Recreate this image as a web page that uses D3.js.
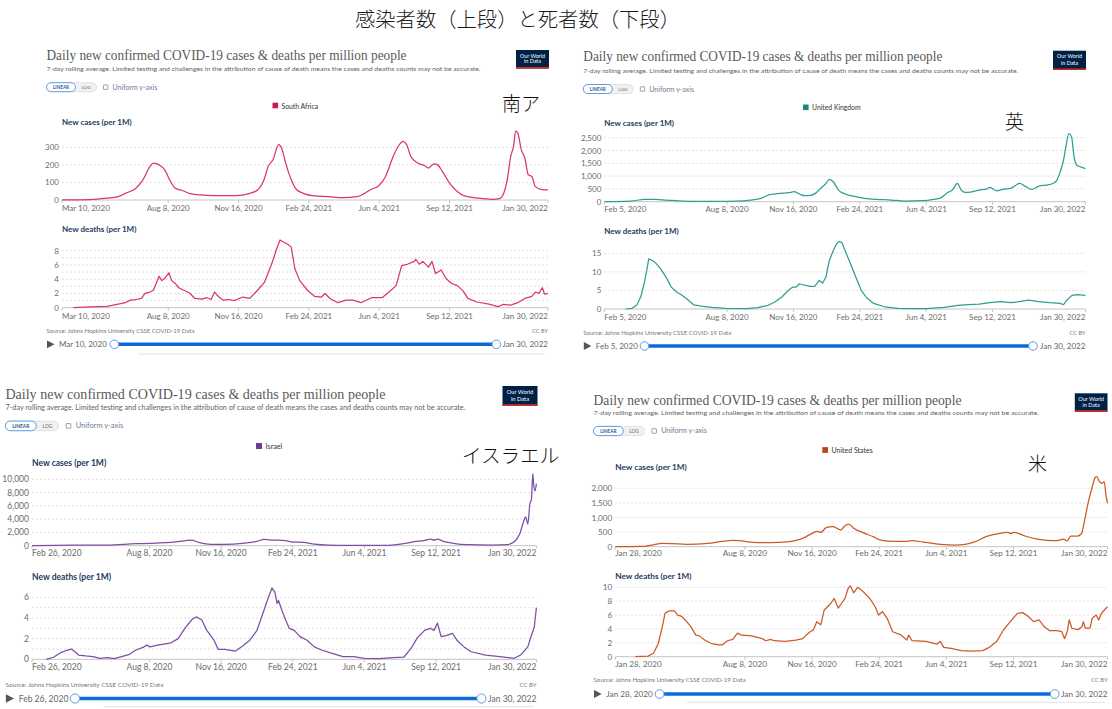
<!DOCTYPE html>
<html>
<head>
<meta charset="utf-8">
<script src="https://cdn.jsdelivr.net/npm/d3@7/dist/d3.min.js"></script>
<style>
  html, body { margin: 0; padding: 0; background: #ffffff; }
  svg { display: block; }
</style>
</head>
<body>
<svg id="chart" width="1112" height="709"></svg>
<script>
// ---------------- DATA ----------------
const mainTitle = "感染者数（上段）と死者数（下段）";
const chartTitle = "Daily new confirmed COVID-19 cases & deaths per million people";
const chartSubtitle = "7-day rolling average. Limited testing and challenges in the attribution of cause of death means the cases and deaths counts may not be accurate.";
const sourceText = "Source: Johns Hopkins University CSSE COVID-19 Data";
const licenseText = "CC BY";
const casesLabel = "New cases (per 1M)";
const deathsLabel = "New deaths (per 1M)";

const countries = ["South Africa", "United Kingdom", "Israel", "United States"];
const countryLabelsJa = ["南ア", "英", "イスラエル", "米"];
const startDates = ["Mar 10, 2020", "Feb 5, 2020", "Feb 26, 2020", "Jan 28, 2020"];
const endDate = "Jan 30, 2022";
const middleTickDates = ["Aug 8, 2020", "Nov 16, 2020", "Feb 24, 2021", "Jun 4, 2021", "Sep 12, 2021"];

const caseTicks = [[0, 100, 200, 300], [0, 500, 1000, 1500, 2000, 2500], [0, 2000, 4000, 6000, 8000, 10000], [0, 500, 1000, 1500, 2000]];
const deathTicks = [[0, 2, 4, 6, 8], [0, 5, 10, 15], [0, 2, 4, 6], [0, 2, 4, 6, 8, 10]];
const deathGridValues = [[1, 2, 3, 4, 5, 6, 7, 8], [5, 10, 15], [1, 2, 3, 4, 5, 6], [2, 4, 6, 8, 10]];

// series points: [days after the panel's first date, value per million]
const saCases = [[0,0],[39,2],[64,10],[80,19],[90,38],[105,67],[115,115],[125,190],[130,210],[138,200],[146,172],[153,115],[161,67],[171,54],[181,38],[196,29],[217,25],[237,25],[247,25],[267,38],[278,57],[288,124],[293,190],[300,229],[308,315],[313,287],[318,210],[326,115],[333,61],[343,38],[359,23],[379,19],[399,13],[420,19],[430,38],[440,61],[450,80],[460,134],[470,239],[478,306],[485,334],[490,315],[496,248],[506,210],[516,195],[521,182],[529,206],[534,200],[541,162],[551,96],[562,48],[572,23],[592,10],[612,4],[622,8],[627,29],[633,115],[638,248],[642,306],[645,392],[648,382],[653,287],[658,239],[663,143],[668,134],[673,76],[681,61],[691,57]];
const saDeaths = [[16,0],[39,0.1],[64,0.2],[80,0.5],[90,0.7],[97,1.06],[105,1.15],[113,1.3],[118,2.0],[125,2.2],[130,2.45],[138,4.4],[142,3.8],[146,4.1],[152,4.9],[156,3.8],[161,3.4],[166,2.8],[173,2.45],[181,2.1],[189,1.3],[199,1.2],[206,1.4],[212,1.15],[217,2.2],[222,1.6],[229,1.06],[237,1.15],[245,1.0],[257,1.5],[267,1.3],[278,2.45],[288,3.6],[298,6.1],[305,8.2],[310,9.5],[316,9.15],[321,8.9],[326,8.5],[331,5.5],[338,3.8],[349,2.45],[359,1.6],[369,1.5],[374,2.0],[381,1.3],[392,0.7],[404,1.06],[414,1.06],[425,0.7],[440,1.4],[455,1.4],[465,2.2],[475,3.1],[483,5.9],[491,6.1],[501,6.5],[503,6.8],[508,6.1],[513,6.5],[521,5.7],[526,6.5],[531,4.8],[539,5.3],[546,4.1],[554,3.4],[562,3.1],[570,2.4],[577,1.3],[590,0.8],[607,0.5],[620,0.15],[627,0.45],[638,0.35],[648,0.7],[658,1.3],[668,1.6],[673,2.2],[678,2.0],[683,2.8],[686,1.9],[691,2.0]];

const ukCases = [[0,0],[40,25],[61,90],[77,90],[93,65],[119,25],[146,13],[172,13],[199,25],[220,65],[236,130],[247,260],[257,300],[265,325],[278,350],[286,390],[294,300],[302,233],[311,246],[318,325],[326,520],[334,712],[339,868],[345,777],[353,453],[363,300],[379,195],[395,117],[411,90],[432,65],[453,26],[480,39],[496,90],[507,150],[517,350],[525,470],[530,673],[532,712],[538,453],[544,363],[554,388],[565,453],[576,492],[581,557],[591,427],[602,492],[612,518],[626,712],[634,609],[644,480],[655,609],[666,648],[676,712],[682,842],[687,1166],[692,1619],[696,2200],[700,2655],[704,2550],[708,1748],[712,1424],[718,1360],[725,1295]];
const ukDeaths = [[32,0],[42,0.2],[49,1.1],[55,3.3],[60,6.8],[64,10.4],[67,13.5],[73,13.0],[78,12.3],[85,10.8],[93,8.6],[101,5.9],[109,4.6],[117,3.7],[125,2.6],[135,1.1],[146,0.8],[162,0.45],[183,0.2],[215,0.1],[231,0.35],[247,1.0],[257,1.9],[268,3.3],[278,5.1],[284,5.9],[289,5.9],[294,6.8],[302,6.4],[310,6.1],[317,6.1],[324,7.7],[329,7.0],[334,8.6],[339,13.0],[345,15.7],[350,17.5],[354,18.2],[358,17.9],[363,15.7],[371,12.2],[379,8.6],[387,5.1],[395,3.1],[406,1.5],[422,0.6],[443,0.2],[464,0.1],[485,0.1],[512,0.45],[533,1.0],[549,1.15],[565,1.3],[581,1.7],[597,2.0],[613,1.7],[623,1.9],[639,2.4],[655,2.0],[671,1.7],[687,1.5],[692,1.15],[697,2.4],[705,3.7],[713,3.9],[725,3.7]];

const ilCases = [[0,0],[55,100],[105,100],[145,300],[165,350],[184,450],[204,600],[214,750],[222,850],[234,450],[249,200],[269,200],[294,350],[314,650],[324,950],[334,850],[344,850],[354,750],[364,550],[379,500],[394,250],[414,100],[444,50],[494,50],[514,250],[534,600],[548,800],[556,1000],[561,850],[566,1000],[573,700],[588,350],[608,150],[643,100],[663,150],[673,600],[681,1850],[686,3600],[689,4350],[692,3250],[695,6350],[697,6950],[699,10850],[700,9350],[702,8250],[704,9350]];
const ilDeaths = [[20,0],[30,0.2],[40,0.64],[47,0.83],[55,0.99],[60,0.73],[65,0.41],[75,0.32],[85,0.26],[95,0.1],[105,0.16],[115,0.06],[125,0.26],[135,0.45],[145,0.9],[155,1.15],[160,1.37],[165,1.2],[175,1.37],[184,1.47],[194,1.6],[204,2.0],[214,3.06],[224,3.9],[230,4.1],[237,3.8],[244,2.8],[254,1.85],[260,0.96],[269,0.96],[284,0.8],[294,1.28],[304,1.85],[314,2.8],[324,4.8],[330,6.0],[335,6.9],[339,6.5],[342,5.4],[344,5.7],[349,4.7],[354,3.8],[359,3.0],[366,2.8],[374,2.2],[384,1.85],[394,1.2],[404,0.9],[419,0.57],[434,0.26],[449,0.26],[464,0.1],[484,0.06],[504,0.16],[519,0.2],[529,1.05],[538,2.1],[548,2.8],[556,3.0],[561,2.8],[566,3.5],[571,2.2],[578,2.3],[587,2.5],[593,1.85],[603,1.2],[613,0.73],[633,0.41],[653,0.26],[673,0.1],[682,0.41],[692,1.2],[697,2.3],[701,3.1],[704,5.0]];

const usCases = [[0,0],[38,10],[54,57],[70,114],[85,103],[106,80],[138,114],[159,183],[175,217],[185,206],[201,160],[222,137],[243,149],[264,194],[279,286],[293,457],[300,526],[306,491],[314,651],[324,686],[332,606],[336,571],[342,720],[348,777],[355,629],[369,480],[384,343],[395,229],[416,183],[432,183],[442,206],[458,160],[473,114],[489,69],[505,57],[521,80],[536,171],[552,343],[568,434],[584,491],[589,457],[594,491],[610,366],[631,251],[652,206],[662,229],[667,263],[673,194],[678,366],[688,366],[694,434],[699,914],[704,1486],[709,1943],[715,2377],[717,2400],[721,2229],[725,2171],[728,2229],[731,1714],[733,1486]];
const usDeaths = [[30,0],[49,0.1],[57,0.5],[64,1.9],[70,4.3],[74,6.25],[80,6.6],[88,6.6],[93,6.0],[99,5.8],[104,5.3],[112,4.4],[120,3.1],[125,3.0],[133,2.4],[143,1.9],[154,1.7],[159,1.7],[167,2.3],[175,2.5],[182,3.4],[188,3.1],[203,3.0],[219,2.6],[224,2.3],[231,2.5],[237,2.3],[253,2.2],[269,2.4],[279,2.6],[290,3.6],[295,3.85],[300,5.05],[306,4.6],[311,6.7],[321,7.7],[326,8.4],[332,7.0],[337,7.7],[342,8.4],[347,9.9],[350,10.2],[355,9.2],[361,10.0],[369,9.4],[379,8.4],[387,7.2],[392,6.0],[398,6.5],[405,5.5],[413,3.6],[426,3.1],[434,2.4],[437,3.1],[442,2.3],[463,2.2],[479,1.8],[484,2.2],[489,1.35],[500,1.2],[515,0.87],[530,0.82],[547,0.87],[557,1.35],[568,2.2],[578,3.85],[586,4.8],[592,5.5],[599,6.25],[607,6.35],[615,5.8],[623,5.05],[631,5.3],[639,4.3],[647,3.75],[657,3.75],[665,3.6],[669,2.6],[673,3.6],[676,5.3],[680,4.1],[689,3.9],[695,4.3],[697,5.05],[700,4.1],[707,4.1],[710,5.5],[716,6.0],[720,5.3],[724,6.25],[729,6.8],[733,7.2]];

const caseSeries = [saCases, ukCases, ilCases, usCases];
const deathSeries = [saDeaths, ukDeaths, ilDeaths, usDeaths];

// ---------------- STYLE / LAYOUT ----------------
const lineColors = ["#dc3373", "#2f9e92", "#7d4ea3", "#cc5a26"];
const legendColors = ["#c8175f", "#168a7d", "#6a3d8f", "#b5461a"];

const layouts = [
  {s:1.0, x:46.5, titleY:55.8, titleW:360, subY:68.5, subW:434, btnY:87.2, logo:[516,50,33,18.5],
   legX:272.5, legY:105.5, jaX:502, jaY:102.5, plotL:62, plotR:548,
   casesLabY:121.7, cY0:200, cYT:147.3, cXLabY:207.5,
   deathsLabY:229.3, dY0:307.7, dYT:250.7, dXLabY:315.5,
   srcW:148, srcY:330.7, slY:344.3, slL:114.3, slR:496.4, tabY:354, tabX0:138.6, tabX1:545},
  {s:1.0, x:583.3, titleY:56.7, titleW:359, subY:70, subW:435, btnY:89, logo:[1053,50.7,33,19.3],
   legX:803, legY:107.3, jaX:1005, jaY:120.5, plotL:604.3, plotR:1085.4,
   casesLabY:123.3, cY0:201.7, cYT:137.7, cXLabY:209.3,
   deathsLabY:231, dY0:309, dYT:253.3, dXLabY:316.7,
   srcW:148, srcY:332.3, slY:346, slL:644.5, slR:1033, tabY:null},
  {s:1.065, x:5.4, titleY:394, titleW:380, subY:406.5, subW:460, btnY:425.9, logo:[502.5,386,35,19.7],
   legX:256, legY:446, jaX:462, jaY:454, plotL:32, plotR:536.4,
   casesLabY:462.7, cY0:545.7, cYT:479.3, cXLabY:553.3,
   deathsLabY:576.7, dY0:659.3, dYT:597.3, dXLabY:666.7,
   srcW:158, srcY:684, slY:698.5, slL:75, slR:481.4, tabY:706.7, tabX0:103.6, tabX1:534},
  {s:1.025, x:593.5, titleY:400, titleW:368, subY:412.7, subW:445.5, btnY:431, logo:[1074.8,393.3,32.7,18.4],
   legX:822.3, legY:450, jaX:1028, jaY:462, plotL:615.3, plotR:1107.5,
   casesLabY:467.3, cY0:546.7, cYT:488.3, cXLabY:553.3,
   deathsLabY:576, dY0:656.7, dYT:587.3, dXLabY:664,
   srcW:152, srcY:679.3, slY:694, slL:659.6, slR:1054.7, tabY:702.3, tabX0:686.8, tabX1:1105}
];

const SANS = "Lato, 'Noto Sans', 'DejaVu Sans', sans-serif";
const SERIF = "'Liberation Serif', 'DejaVu Serif', serif";
const CJK = "'Noto Sans CJK JP', 'Noto Sans CJK SC', sans-serif";
const parseDate = d3.timeParse("%b %d, %Y");
const fmtNum = d3.format(",");

const svg = d3.select("#chart");
svg.append("rect").attr("width", 1112).attr("height", 709).attr("fill", "#ffffff");

svg.append("text")
  .attr("x", 355).attr("y", 18.5)
  .attr("dominant-baseline", "central")
  .attr("font-family", CJK).attr("font-size", 20).attr("font-weight", 300)
  .attr("fill", "#1a1a1a")
  .attr("textLength", 325).attr("lengthAdjust", "spacingAndGlyphs")
  .text(mainTitle);

function txt(g, x, y, str, opts) {
  const t = g.append("text").attr("x", x).attr("y", y)
    .attr("dominant-baseline", "central")
    .attr("font-family", opts.family || SANS)
    .attr("font-size", opts.size)
    .attr("fill", opts.fill || "#666")
    .attr("text-anchor", opts.anchor || "start")
    .text(str);
  if (opts.weight) t.attr("font-weight", opts.weight);
  if (opts.width) t.attr("textLength", opts.width).attr("lengthAdjust", "spacingAndGlyphs");
  return t;
}

function drawChart(g, L, i, series, ticks, gridVals, y0, yT, labY, xLabY, label, curve) {
  const s = L.s;
  const start = parseDate(startDates[i]);
  const end = parseDate(endDate);
  const x = d3.scaleTime().domain([start, end]).range([L.plotL, L.plotR]);
  const maxTick = d3.max(ticks);
  const y = d3.scaleLinear().domain([0, maxTick]).range([y0, yT]);

  txt(g, L.plotL, labY, label, {size: 8 * s, weight: 700, fill: "#243a5e"});

  // grid
  g.selectAll(null).data(gridVals).enter().append("line")
    .attr("x1", L.plotL).attr("x2", L.plotR)
    .attr("y1", d => y(d)).attr("y2", d => y(d))
    .attr("stroke", "#d8d8d8").attr("stroke-width", 0.8)
    .attr("stroke-dasharray", "2,2");

  // y labels
  g.selectAll(null).data(ticks).enter().append("text")
    .attr("x", L.plotL - 3).attr("y", d => y(d))
    .attr("dominant-baseline", "central").attr("text-anchor", "end")
    .attr("font-family", SANS).attr("font-size", 8 * s).attr("fill", "#6d6d6d")
    .text(d => fmtNum(d));

  // x axis
  g.append("line").attr("x1", L.plotL).attr("x2", L.plotR)
    .attr("y1", y0).attr("y2", y0).attr("stroke", "#c4c4c4").attr("stroke-width", 1);
  const tickLabels = [startDates[i]].concat(middleTickDates, [endDate]);
  tickLabels.forEach((lab, k) => {
    const d = parseDate(lab);
    const xp = x(d);
    g.append("line").attr("x1", xp).attr("x2", xp).attr("y1", y0).attr("y2", y0 + 3)
      .attr("stroke", "#c4c4c4").attr("stroke-width", 1);
    const anchor = k === 0 ? "start" : (k === tickLabels.length - 1 ? "end" : "middle");
    txt(g, xp, xLabY, lab, {size: 8 * s, fill: "#6d6d6d", anchor: anchor});
  });

  // series line
  const line = d3.line()
    .curve(curve)
    .x(d => x(d3.timeDay.offset(start, d[0])))
    .y(d => y(d[1]));
  g.append("path").datum(series)
    .attr("d", line)
    .attr("fill", "none")
    .attr("stroke", lineColors[i])
    .attr("stroke-width", 1.25)
    .attr("stroke-linejoin", "round");
}

layouts.forEach((L, i) => {
  const s = L.s;
  const g = svg.append("g");

  // title / subtitle
  txt(g, L.x, L.titleY, chartTitle, {family: SERIF, size: 14 * s, fill: "#5a5a5a", width: L.titleW});
  txt(g, L.x, L.subY, chartSubtitle, {size: 6.3 * s, fill: "#5f5f5f", width: L.subW});

  // logo
  const [lx, ly, lw, lh] = L.logo;
  g.append("rect").attr("x", lx).attr("y", ly).attr("width", lw).attr("height", lh).attr("fill", "#002147");
  g.append("rect").attr("x", lx).attr("y", ly + lh - 1.6).attr("width", lw).attr("height", 1.6).attr("fill", "#ce261e");
  txt(g, lx + lw / 2, ly + lh * 0.3, "Our World", {size: 5.4 * s, fill: "#ffffff", anchor: "middle"});
  txt(g, lx + lw / 2, ly + lh * 0.62, "in Data", {size: 5.4 * s, fill: "#ffffff", anchor: "middle"});

  // buttons
  const bh = 9 * s;
  g.append("rect").attr("x", L.x).attr("y", L.btnY - bh / 2).attr("width", 50 * s).attr("height", bh)
    .attr("rx", bh / 2).attr("fill", "#f1f1f1").attr("stroke", "#dcdcdc").attr("stroke-width", 0.8);
  g.append("rect").attr("x", L.x).attr("y", L.btnY - bh / 2).attr("width", 29 * s).attr("height", bh)
    .attr("rx", bh / 2).attr("fill", "#ffffff").attr("stroke", "#5d9de3").attr("stroke-width", 1);
  txt(g, L.x + 14.5 * s, L.btnY, "LINEAR", {size: 4.6 * s, weight: 700, fill: "#2e5b95", anchor: "middle"});
  txt(g, L.x + 39.5 * s, L.btnY, "LOG", {size: 4.6 * s, fill: "#666", anchor: "middle"});
  g.append("rect").attr("x", L.x + 57 * s).attr("y", L.btnY - 2.2 * s).attr("width", 4.4 * s).attr("height", 4.4 * s)
    .attr("rx", 0.5).attr("fill", "#fff").attr("stroke", "#777").attr("stroke-width", 0.7);
  txt(g, L.x + 66 * s, L.btnY - 0.5, "Uniform y-axis", {size: 7 * s, fill: "#6b7b92"});

  // legend
  g.append("rect").attr("x", L.legX).attr("y", L.legY - 2.8 * s).attr("width", 5.6 * s).attr("height", 5.6 * s)
    .attr("fill", legendColors[i]);
  txt(g, L.legX + 9 * s, L.legY, countries[i], {size: 6.8 * s, fill: "#333"});

  // Japanese country label
  txt(g, L.jaX, L.jaY, countryLabelsJa[i], {family: CJK, size: 19 * (i === 2 ? 1.03 : 1), weight: 300, fill: "#111"});

  // charts
  drawChart(g, L, i, caseSeries[i], caseTicks[i], caseTicks[i].filter(v => v > 0),
    L.cY0, L.cYT, L.casesLabY, L.cXLabY, casesLabel, d3.curveMonotoneX);
  drawChart(g, L, i, deathSeries[i], deathTicks[i], deathGridValues[i],
    L.dY0, L.dYT, L.deathsLabY, L.dXLabY, deathsLabel, d3.curveLinear);

  // source line
  txt(g, L.x, L.srcY, sourceText, {size: 5.6 * s, fill: "#777", width: L.srcW});
  txt(g, L.plotR, L.srcY, licenseText, {size: 5.6 * s, fill: "#777", anchor: "end"});

  // timeline slider
  const ty = L.slY;
  g.append("path")
    .attr("d", `M${L.x + 0.5},${ty - 3.9 * s}L${L.x + 0.5},${ty + 3.9 * s}L${L.x + 8 * s},${ty}Z`)
    .attr("fill", "#555");
  txt(g, L.x + 12.5 * s, ty, startDates[i], {size: 8 * s, fill: "#666"});
  txt(g, L.plotR, ty, endDate, {size: 8 * s, fill: "#666", anchor: "end"});
  g.append("line").attr("x1", L.slL).attr("x2", L.slR).attr("y1", ty).attr("y2", ty)
    .attr("stroke", "#0b6bdb").attr("stroke-width", 3.4 * s);
  [L.slL, L.slR].forEach(cx => {
    g.append("circle").attr("cx", cx).attr("cy", ty).attr("r", 4.3 * s)
      .attr("fill", "#ffffff").attr("stroke", "#5c9ce6").attr("stroke-width", 1);
  });

  if (L.tabY !== null) {
    g.append("line").attr("x1", L.tabX0).attr("x2", L.tabX1).attr("y1", L.tabY).attr("y2", L.tabY)
      .attr("stroke", "#e3e3e3").attr("stroke-width", 1);
  }
});
</script>
</body>
</html>
